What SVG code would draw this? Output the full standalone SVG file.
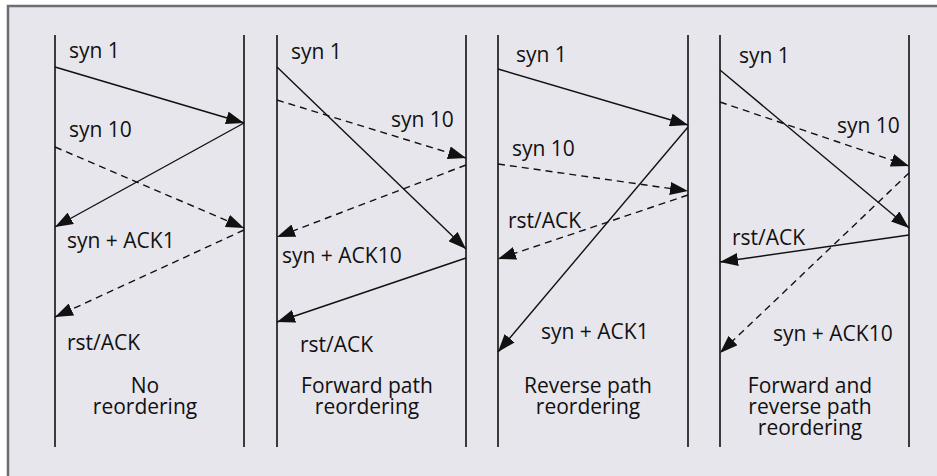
<svg xmlns="http://www.w3.org/2000/svg" width="937" height="476" viewBox="0 0 937 476">
  <style>
    .frame { fill: #e7e6ec; stroke: #6e6e72; stroke-width: 2.5; }
    .life { stroke: #111; stroke-width: 1.6; fill: none; }
    .msg { stroke: #111; stroke-width: 1.4; fill: none; marker-end: url(#head); }
    .dash { stroke-dasharray: 7 5; }
    text { font-family: "Open Sans", "Noto Sans", "Liberation Sans", sans-serif; font-size: 21px; fill: #111; }
    .cap { text-anchor: middle; }
  </style>
  <defs>
    <marker id="head" markerUnits="userSpaceOnUse" markerWidth="19" markerHeight="13" refX="18" refY="6.5" orient="auto">
      <path d="M0,0 L18,6.5 L0,13 z" fill="#111"/>
    </marker>
  </defs>

  <!-- background panel -->
  <rect class="frame" x="8" y="6" width="940" height="480"/>

  <!-- panel 1: no reordering -->
  <g id="panel-no-reordering">
    <line class="life" x1="55" y1="35" x2="55" y2="447"/>
    <line class="life" x1="244" y1="35" x2="244" y2="447"/>
    <text x="69" y="58">syn 1</text>
    <text x="69" y="137">syn 10</text>
    <text x="67" y="248">syn + ACK1</text>
    <text x="67" y="350">rst/ACK</text>
    <text class="cap" x="145" y="393">No<tspan x="145" dy="21">reordering</tspan></text>
  </g>

  <!-- panel 2: forward path reordering -->
  <g id="panel-forward">
    <line class="life" x1="277" y1="35" x2="277" y2="447"/>
    <line class="life" x1="466" y1="35" x2="466" y2="447"/>
    <text x="291" y="59">syn 1</text>
    <text x="391" y="127">syn 10</text>
    <text x="282" y="263">syn + ACK10</text>
    <text x="300" y="352">rst/ACK</text>
    <text class="cap" x="367" y="393">Forward path<tspan x="367" dy="21">reordering</tspan></text>
  </g>

  <!-- panel 3: reverse path reordering -->
  <g id="panel-reverse">
    <line class="life" x1="498" y1="35" x2="498" y2="447"/>
    <line class="life" x1="688" y1="35" x2="688" y2="447"/>
    <text x="516" y="62">syn 1</text>
    <text x="512" y="156">syn 10</text>
    <text x="508" y="228">rst/ACK</text>
    <text x="541" y="339">syn + ACK1</text>
    <text class="cap" x="588" y="393">Reverse path<tspan x="588" dy="21">reordering</tspan></text>
  </g>

  <!-- panel 4: forward and reverse path reordering -->
  <g id="panel-both">
    <line class="life" x1="720" y1="35" x2="720" y2="447"/>
    <line class="life" x1="909" y1="35" x2="909" y2="447"/>
    <text x="739" y="63">syn 1</text>
    <text x="837" y="133">syn 10</text>
    <text x="732" y="245">rst/ACK</text>
    <text x="773" y="341">syn + ACK10</text>
    <text class="cap" x="810" y="393">Forward and<tspan x="810" dy="21">reverse path</tspan><tspan x="810" dy="21">reordering</tspan></text>
  </g>

  <!-- message arrows -->
  <g id="connectors">
    <!-- panel 1 -->
    <line class="msg" x1="55" y1="67" x2="244" y2="123"/>
    <line class="msg" x1="244" y1="123" x2="55" y2="227"/>
    <line class="msg dash" x1="55" y1="147" x2="244" y2="228"/>
    <line class="msg dash" x1="244" y1="230" x2="55" y2="317"/>
    <!-- panel 2 -->
    <line class="msg" x1="277" y1="67" x2="466" y2="249"/>
    <line class="msg dash" x1="277" y1="100" x2="466" y2="158"/>
    <line class="msg dash" x1="466" y1="165" x2="277" y2="237"/>
    <line class="msg" x1="466" y1="258" x2="277" y2="322"/>
    <!-- panel 3 -->
    <line class="msg" x1="498" y1="69" x2="688" y2="125"/>
    <line class="msg dash" x1="498" y1="164" x2="688" y2="191"/>
    <line class="msg dash" x1="688" y1="195" x2="498" y2="259"/>
    <line class="msg" x1="688" y1="127" x2="498" y2="352"/>
    <!-- panel 4 -->
    <line class="msg" x1="720" y1="70" x2="909" y2="228"/>
    <line class="msg dash" x1="720" y1="102" x2="909" y2="166"/>
    <line class="msg dash" x1="909" y1="173" x2="720" y2="353"/>
    <line class="msg" x1="909" y1="235" x2="720" y2="262"/>
  </g>
</svg>
